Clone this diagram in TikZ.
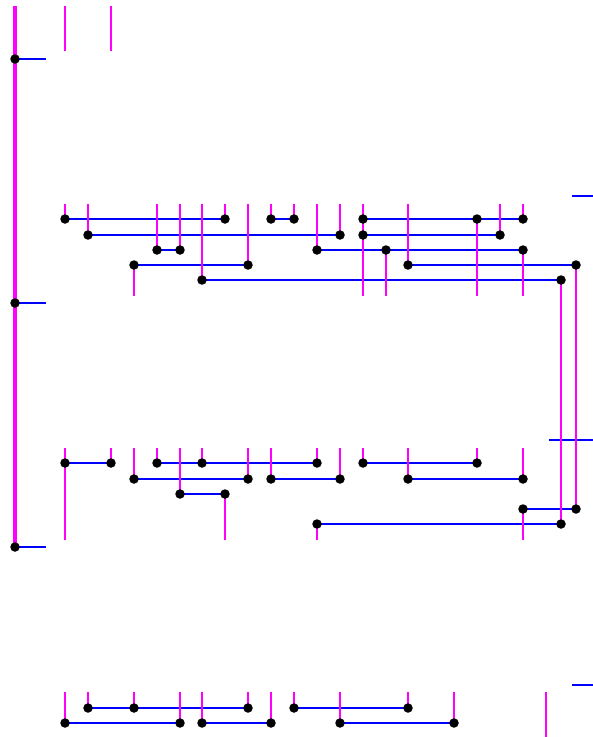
\documentclass[tikz,border=0pt]{standalone}
\definecolor{mag}{RGB}{255,0,255}
\definecolor{blu}{RGB}{0,0,255}
\begin{document}
\begin{tikzpicture}[x=1pt,y=-1pt,
  wire/.style={draw=mag,line width=2pt},
  bus/.style={draw=blu,line width=2pt},
  rail/.style={draw=mag,line width=4pt},
  dotnode/.style={circle,fill=black,inner sep=0pt,minimum size=9.5pt}]
\useasboundingbox (0,0) rectangle (593,737);
% grid coordinates
\foreach \i/\x in {0/65,1/88,2/111,3/134,4/157,5/180,6/202,7/225,8/248,9/271,10/294,11/317,12/340,13/363,14/386,15/408,17/454,18/477,19/500,20/523,21/546,p/561,q/576}{
  \foreach \s/\y in {T0/6,Z0/51,T1/204,A1/219,B1/235,C1/250,D1/265,E1/280,Z1/296,T2/448,A2/463,B2/479,C2/494,D2/509,E2/524,Z2/540,T3/692,A3/708,B3/723,Z3/737}{
    \coordinate (\i-\s) at (\x,\y);
  }
}
% left rail and stubs
\coordinate (Ltop) at (15,6);
\coordinate (Lbot) at (15,547);
\coordinate (L1) at (15,59);   \coordinate (M1) at (46,59);
\coordinate (L2) at (15,303);  \coordinate (M2) at (46,303);
\coordinate (L3) at (15,547);  \coordinate (M3) at (46,547);
% right stubs
\coordinate (R1a) at (572,196); \coordinate (R1b) at (593,196);
\coordinate (R2a) at (549,440); \coordinate (R2b) at (593,440);
\coordinate (R3a) at (572,685); \coordinate (R3b) at (593,685);
% blue buses
\foreach \a/\b in {L1/M1,L2/M2,L3/M3,R1a/R1b,R2a/R2b,R3a/R3b,
  0-A1/7-A1,9-A1/10-A1,13-A1/20-A1,1-B1/12-B1,13-B1/19-B1,4-C1/5-C1,11-C1/20-C1,3-D1/8-D1,15-D1/q-D1,6-E1/p-E1,
  0-A2/2-A2,4-A2/11-A2,13-A2/18-A2,3-B2/8-B2,9-B2/12-B2,15-B2/20-B2,5-C2/7-C2,20-D2/q-D2,11-E2/p-E2,
  1-A3/8-A3,10-A3/15-A3,0-B3/5-B3,6-B3/9-B3,12-B3/17-B3}
  \draw[bus] (\a) -- (\b);
% magenta rail
\draw[rail] (Ltop) -- (Lbot);
% magenta wires
\foreach \a/\b in {0-T0/0-Z0,2-T0/2-Z0,
  0-T1/0-A1,1-T1/1-B1,3-D1/3-Z1,4-T1/4-C1,5-T1/5-C1,6-T1/6-E1,7-T1/7-A1,8-T1/8-D1,9-T1/9-A1,10-T1/10-A1,11-T1/11-C1,12-T1/12-B1,13-T1/13-Z1,14-C1/14-Z1,15-T1/15-D1,18-A1/18-Z1,19-T1/19-B1,20-T1/20-A1,20-C1/20-Z1,p-E1/p-E2,q-D1/q-D2,
  0-T2/0-Z2,2-T2/2-A2,3-T2/3-B2,4-T2/4-A2,5-T2/5-C2,6-T2/6-A2,7-C2/7-Z2,8-T2/8-B2,9-T2/9-B2,11-T2/11-A2,11-E2/11-Z2,12-T2/12-B2,13-T2/13-A2,15-T2/15-B2,18-T2/18-A2,20-T2/20-B2,20-D2/20-Z2,
  0-T3/0-B3,1-T3/1-A3,3-T3/3-A3,5-T3/5-B3,6-T3/6-B3,8-T3/8-A3,9-T3/9-B3,10-T3/10-A3,12-T3/12-B3,15-T3/15-A3,17-T3/17-B3,21-T3/21-Z3}
  \draw[wire] (\a) -- (\b);
% dots
\foreach \p in {L1,L2,L3,
  0-A1,1-B1,3-D1,4-C1,5-C1,6-E1,7-A1,8-D1,9-A1,10-A1,11-C1,12-B1,13-A1,13-B1,14-C1,15-D1,18-A1,19-B1,20-A1,20-C1,p-E1,q-D1,
  0-A2,2-A2,3-B2,4-A2,5-C2,6-A2,7-C2,8-B2,9-B2,11-A2,11-E2,12-B2,13-A2,15-B2,18-A2,20-B2,20-D2,p-E2,q-D2,
  0-B3,1-A3,3-A3,5-B3,6-B3,8-A3,9-B3,10-A3,12-B3,15-A3,17-B3}
  \node[dotnode] (dot\p) at (\p) {};
\end{tikzpicture}
\end{document}
